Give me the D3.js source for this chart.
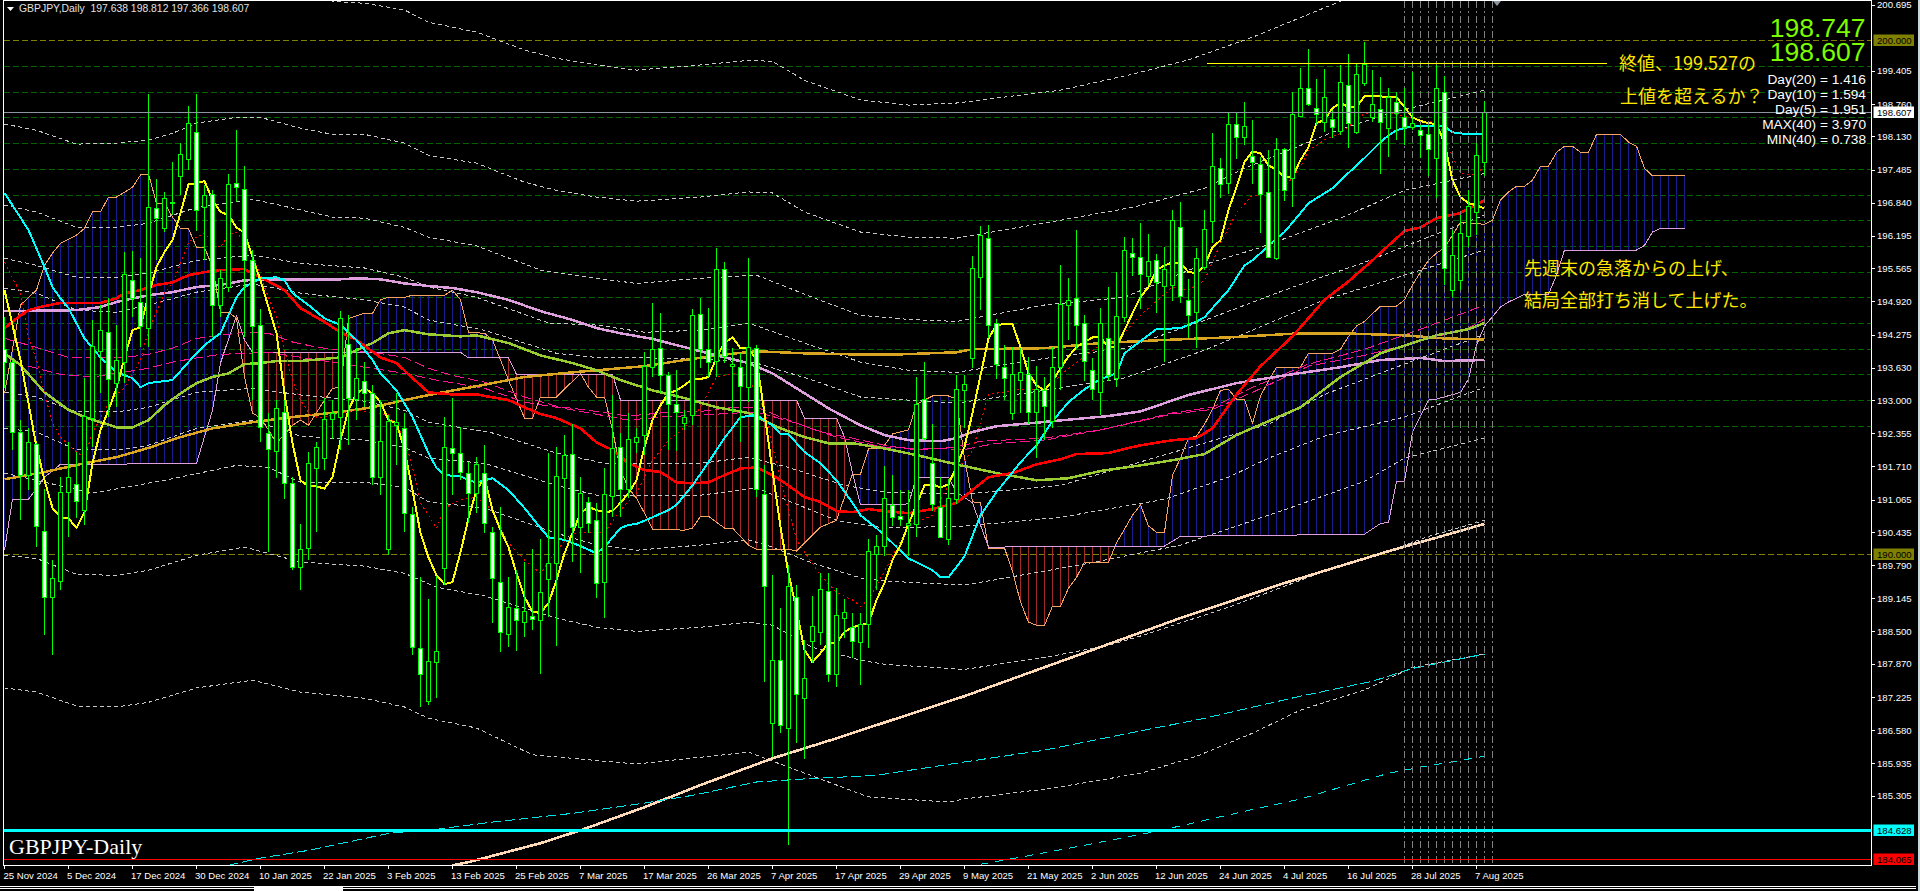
<!DOCTYPE html>
<html><head><meta charset="utf-8">
<style>html,body{margin:0;padding:0;background:#000;overflow:hidden}svg{display:block}</style>
<script src="https://cdn.jsdelivr.net/npm/d3@7"></script>
</head><body>
<script>
const opens=[193.99,193.74,192.38,191.54,192.14,190.45,189.17,189.48,191.21,191.36,
190.86,192.65,193.95,194.32,193.33,193.74,195.33,194.91,194.40,196.73,
196.34,196.83,197.36,197.69,198.21,196.75,197.01,194.85,195.20,197.22,
197.11,195.72,194.46,192.36,192.01,192.77,191.38,189.75,190.12,191.68,
191.87,192.63,192.67,194.09,193.02,193.37,193.13,191.50,190.10,192.51,
192.45,190.78,188.18,187.14,187.90,189.73,192.07,191.97,191.58,191.19,
191.58,190.43,189.46,188.45,188.95,188.68,188.80,188.72,189.52,189.83,
191.48,191.95,190.53,191.02,190.67,189.46,191.13,192.09,191.27,192.18,
192.32,193.64,194.01,193.48,192.92,192.55,192.71,194.67,193.99,193.76,
195.55,193.66,193.64,193.25,194.01,191.17,186.71,187.94,186.62,189.17,
187.20,188.31,188.49,189.28,187.67,188.76,188.58,188.29,188.64,190.00,
190.16,190.96,190.74,190.57,190.59,193.02,191.77,190.92,190.30,191.07,
193.19,193.82,195.39,196.15,194.50,193.64,192.75,193.39,193.50,192.77,
193.19,192.59,193.64,194.85,194.98,194.50,193.58,193.15,194.20,193.43,
194.61,195.86,195.78,195.41,195.72,195.22,195.24,196.36,194.95,194.71,
195.59,196.48,197.51,197.22,198.37,198.12,197.75,197.59,197.05,195.76,
197.88,197.32,198.52,199.07,198.68,198.41,198.47,198.23,199.13,198.21,
199.17,198.50,198.66,198.29,198.80,198.50,198.31,198.25,198.17,197.71,
198.99,195.14,195.33,196.19,196.66,197.638];
const highs=[194.61,193.78,192.61,192.45,192.16,191.27,189.89,191.50,192.18,191.99,
193.43,194.56,194.85,194.98,194.46,195.88,195.90,195.76,198.95,197.30,
197.05,197.63,198.00,198.72,198.95,197.18,197.09,195.53,197.40,198.25,
197.55,195.92,194.77,192.75,193.00,193.00,191.50,190.59,191.99,192.18,
193.04,193.00,194.73,194.65,194.01,193.74,193.29,193.00,192.71,193.13,
192.75,190.92,189.55,189.13,189.57,192.67,193.04,192.47,191.79,191.89,
192.12,190.53,190.92,189.55,189.69,189.85,190.10,190.30,191.97,192.09,
192.32,192.53,191.50,191.11,191.00,191.68,193.10,192.36,192.75,192.45,
193.93,194.89,194.69,193.54,193.58,192.81,194.77,194.98,194.79,195.96,
195.68,194.01,193.91,195.76,194.07,191.73,189.59,188.95,189.79,189.40,
188.33,189.19,189.63,189.63,189.34,189.13,188.85,188.85,190.30,190.37,
191.71,191.54,191.25,191.25,193.45,193.74,192.53,191.50,191.46,193.48,
193.48,195.80,196.38,196.40,194.58,194.07,194.03,194.01,193.83,193.66,
193.45,194.03,195.63,195.37,196.31,194.65,193.81,194.79,195.20,195.49,
196.17,196.15,196.44,196.23,195.84,195.97,196.70,196.85,195.35,195.96,
196.70,198.19,197.71,198.58,198.58,198.80,198.45,197.73,197.87,198.10,
197.90,198.99,199.46,199.83,199.24,199.44,198.64,199.52,199.73,199.56,
199.96,199.42,199.28,199.07,198.99,199.07,199.38,198.35,198.35,199.52,
199.30,196.31,196.60,197.09,198.00,198.812];
const lows=[193.23,192.03,190.67,191.25,190.14,188.43,188.04,189.30,190.33,190.70,
190.57,192.09,193.13,192.67,192.86,193.33,194.61,194.03,194.03,195.72,
196.27,196.60,196.99,197.48,196.29,195.72,194.22,194.61,195.10,196.85,
194.22,193.00,192.18,190.04,191.48,191.07,189.69,189.30,189.89,190.43,
191.64,192.24,192.03,192.12,192.61,192.86,191.34,191.15,189.98,191.73,
190.43,188.04,187.03,187.06,187.20,189.40,191.15,191.44,190.61,190.80,
190.41,188.66,188.10,188.20,188.12,188.39,188.53,187.67,188.78,188.21,
190.28,189.85,189.63,190.41,189.15,188.76,190.72,190.72,191.09,191.97,
191.93,193.45,193.13,192.03,192.01,192.42,192.51,193.62,193.45,193.45,
193.72,192.75,192.18,192.96,191.11,187.51,186.05,186.52,184.34,186.33,
186.02,187.88,188.23,187.51,187.42,188.37,187.98,187.45,188.18,189.30,
189.96,190.55,190.55,189.96,190.33,192.22,190.84,190.31,190.18,190.98,
192.45,193.62,194.75,194.20,193.41,193.00,192.61,192.75,192.53,191.87,
192.22,192.45,193.19,194.17,193.99,193.37,193.00,192.71,193.37,193.25,
194.52,195.41,194.77,195.24,194.69,193.74,194.93,194.89,194.20,194.01,
195.53,196.05,196.93,197.01,197.69,197.96,197.20,196.25,195.76,195.72,
196.87,196.75,198.50,198.72,198.35,198.21,198.10,198.15,197.90,198.17,
199.11,198.41,197.40,197.73,198.06,197.96,198.25,197.71,197.36,196.93,
195.24,195.00,195.14,195.97,196.21,197.366];
const closes=[193.74,192.38,191.54,192.18,190.55,189.17,189.54,191.21,191.50,191.03,
192.69,194.05,194.36,193.41,193.78,195.45,194.98,194.44,196.75,196.54,
196.93,196.85,197.78,198.39,196.70,196.99,194.85,195.37,197.20,197.14,
195.72,194.44,192.47,192.05,192.84,191.38,189.75,190.10,191.77,192.09,
192.63,192.75,194.59,193.04,193.43,193.13,191.50,192.20,192.59,192.57,
190.80,188.20,187.67,187.92,188.12,192.09,191.97,191.60,191.19,191.75,
190.61,189.54,188.49,188.97,188.72,188.89,188.74,189.26,189.83,191.52,
191.93,190.53,191.19,190.61,189.44,191.17,192.07,191.27,192.24,192.28,
193.66,193.99,193.48,192.92,192.77,192.67,194.65,193.99,193.74,195.55,
193.85,193.70,193.27,194.03,191.27,189.38,187.94,186.68,189.38,187.28,
187.59,188.60,189.32,187.67,188.82,188.87,188.31,188.64,190.06,190.16,
191.09,190.72,190.68,190.61,192.92,192.26,190.98,190.33,191.09,193.21,
193.31,195.57,196.21,194.46,193.70,193.43,193.50,193.54,192.77,193.21,
192.88,193.64,194.87,194.95,194.46,193.76,193.21,194.50,193.48,194.63,
195.92,195.78,195.45,195.70,195.29,195.55,196.50,195.02,194.65,195.76,
196.33,197.55,197.20,198.37,198.12,198.33,197.63,197.01,195.78,197.88,
197.09,198.56,199.07,198.76,198.56,198.89,198.31,199.19,198.39,199.34,
199.54,198.76,198.41,198.89,198.58,198.31,198.39,198.15,197.87,199.07,
195.57,195.82,196.25,196.78,197.77,198.607];
const yellowVals=[195.14,194.46,193.78,192.94,192.09,191.44,190.90,190.72,190.70,190.51,190.82,191.77,192.42,192.81,193.23,193.83,194.36,194.42,195.04,195.59,195.88,196.11,196.64,197.20,197.22,197.26,196.89,196.66,196.60,196.36,196.25,195.78,195.33,194.81,194.30,193.13,192.16,191.44,191.32,191.32,191.28,191.50,192.22,192.81,193.13,193.23,193.13,192.96,192.61,192.55,192.03,191.25,190.41,189.94,189.59,189.42,189.46,190.04,190.70,191.25,191.48,190.86,190.47,190.14,189.63,189.17,188.88,188.86,189.05,189.50,190.02,190.41,190.80,190.92,190.86,190.82,190.84,191.00,191.19,191.44,192.09,192.61,192.90,193.13,193.19,193.29,193.41,193.41,193.45,193.83,194.11,194.22,194.01,194.01,193.78,192.75,191.62,190.53,189.63,188.92,188.14,187.90,188.08,188.27,188.27,188.49,188.58,188.62,188.66,189.11,189.44,189.89,190.18,190.59,190.96,191.34,191.36,191.30,191.36,191.71,192.09,192.75,193.48,194.20,194.46,194.48,194.48,194.03,193.52,193.29,193.19,193.37,193.62,193.85,194.03,194.13,194.22,194.22,194.03,194.03,194.36,194.69,195.00,195.20,195.53,195.62,195.68,195.66,195.49,195.47,195.62,195.97,196.11,196.70,197.14,197.63,197.84,197.80,197.57,197.48,197.34,197.34,197.67,197.92,198.39,198.45,198.68,198.78,198.70,198.70,198.91,198.91,198.91,198.89,198.89,198.70,198.50,198.43,198.39,198.37,198.00,197.28,196.95,196.83,196.79,196.73];
const cyanBars=[0,3,5,6,7,8,10,12,14,16,17,18,21,23,25,27,29,30,32,34,35,36,38,40,42,44,46,47,49,51,53,54,55,57,58,59,61,63,65,67,68,70,72,74,75,77,78,79,81,83,84,85,86,88,90,92,94,96,97,98,100,102,104,106,107,109,111,113,116,117,118,120,122,124,127,129,131,133,135,137,139,140,142,144,147,149,150,151,153,155,156,157,158,160,162,163,166,168,170,172,173,174,176,178,180,181,183,185];
const cyanVals=[197.03,196.31,195.59,195.20,194.98,194.79,194.20,193.83,193.54,193.43,193.25,193.33,193.39,193.74,194.07,194.30,195.00,195.20,195.37,195.39,195.33,195.08,194.85,194.59,194.46,194.17,193.78,193.52,193.19,192.67,191.97,191.68,191.54,191.52,191.44,191.40,191.48,191.25,190.90,190.51,190.33,190.28,190.16,190.02,190.14,190.51,190.57,190.59,190.72,190.86,190.96,191.15,191.34,191.79,192.26,192.67,192.71,192.51,192.34,192.34,191.99,191.77,191.44,191.00,190.76,190.51,190.22,189.92,189.69,189.55,189.55,189.96,190.76,191.21,191.79,192.12,192.59,192.96,193.21,193.41,193.52,193.91,194.15,194.38,194.40,194.53,194.61,194.79,195.14,195.62,195.72,195.86,196.01,196.27,196.64,196.83,197.12,197.42,197.71,198.02,198.15,198.25,198.33,198.33,198.33,198.21,198.17,198.19];
const redBars=[0,2,3,5,7,12,14,15,17,19,21,23,25,27,30,32,35,37,40,42,44,47,49,51,53,56,59,63,65,67,69,72,74,76,78,80,82,84,86,88,90,92,94,96,98,100,102,104,106,108,110,113,116,119,121,123,126,129,132,134,138,140,142,146,149,151,154,157,161,165,168,171,174,175,177,179,182,185];
const redVals=[194.40,194.65,194.75,194.83,194.89,194.89,194.98,195.08,195.14,195.24,195.29,195.43,195.49,195.53,195.55,195.39,195.14,194.79,194.52,194.32,194.17,193.83,193.72,193.43,193.15,193.11,193.11,193.00,192.86,192.73,192.65,192.45,192.18,192.03,191.77,191.64,191.60,191.40,191.38,191.40,191.54,191.67,191.69,191.54,191.34,191.11,191.02,190.84,190.82,190.88,190.84,190.80,190.88,191.00,191.25,191.50,191.58,191.75,191.85,191.95,191.97,192.05,192.12,192.22,192.26,192.45,193.11,193.66,194.24,194.95,195.31,195.72,196.15,196.29,196.36,196.54,196.64,196.89];
const plumBars=[0,9,12,14,18,21,24,27,30,35,42,44,47,50,53,56,59,63,67,71,74,77,81,85,89,93,96,99,103,107,110,113,117,119,121,124,131,138,142,148,154,160,167,172,177,180,185];
const plumVals=[194.73,194.75,194.81,194.91,195.04,195.10,195.20,195.24,195.33,195.35,195.35,195.37,195.35,195.27,195.22,195.18,195.10,194.95,194.73,194.56,194.40,194.30,194.19,194.03,193.87,193.72,193.52,193.23,192.84,192.51,192.32,192.22,192.20,192.26,192.38,192.49,192.59,192.69,192.78,193.10,193.33,193.48,193.64,193.78,193.82,193.76,193.78];
const oliveBars=[0,2,5,8,10,12,14,16,18,20,22,24,26,28,30,32,34,37,42,44,46,48,50,53,57,59,63,67,71,74,77,81,85,89,93,97,100,103,106,110,114,119,124,129,133,137,142,146,150,154,158,162,167,172,179,183,185];
const oliveVals=[193.91,193.68,193.15,192.81,192.67,192.57,192.47,192.47,192.61,192.90,193.13,193.33,193.45,193.52,193.70,193.72,193.76,193.76,193.83,193.97,194.11,194.30,194.36,194.28,194.24,194.26,194.11,193.87,193.72,193.58,193.39,193.19,193.04,192.86,192.75,192.45,192.28,192.16,192.16,192.06,191.93,191.75,191.58,191.44,191.48,191.62,191.73,191.83,191.95,192.32,192.59,192.86,193.45,193.91,194.26,194.38,194.50];
const goldBars=[0,5,10,14,18,22,26,31,36,42,46,50,54,59,65,71,77,80,85,89,94,100,106,112,119,121,130,137,145,153,162,167,175,180,185];
const goldVals=[191.46,191.60,191.77,191.89,192.07,192.28,192.45,192.57,192.67,192.77,192.86,193.00,193.13,193.27,193.45,193.54,193.62,193.66,193.78,193.87,193.95,193.91,193.89,193.89,193.93,193.99,194.01,194.11,194.17,194.22,194.30,194.30,194.26,194.20,194.18];
const peachBars=[56,58,67,72,80,87,96,104,112,120,136,147,160,173,185];
const peachVals=[183.95,184.01,184.38,184.63,185.08,185.51,186.03,186.42,186.83,187.24,188.14,188.76,189.44,190.06,190.59];
const tealABars=[28,32,38,48,54,61,71,80,86,94,100,109,120,130,138,150,162,171,176,185];
const tealAVals=[183.95,184.09,184.24,184.57,184.65,184.79,184.96,185.16,185.31,185.57,185.63,185.70,185.96,186.19,186.44,186.81,187.24,187.53,187.78,188.06];
const tealBBars=[122,125,135,144,155,162,173,177,185];
const tealBVals=[183.97,184.05,184.34,184.61,185.00,185.24,185.74,185.86,186.07];
const dotBars=[0,2,3,4,5,6,7,9,10,11,13,15,17,18,20,21,22,23,24,25,26,27,28,29,30,31,32,33,34,35,36,37,38,39,40,44,46,48,50,51,52,54,55,57,59,61,63,65,67,69,71,73,75,77,79,81,83,85,87,89,91,93,95,97,99,102,104,106,107,108,110,113,116,119,121,123,127,130,133,137,139,142,146,148,150,152,154,156,158,160,162,163,165,167,170,173,176,178,179,180,181,182,184,185];
const dotVals=[195.68,195.08,194.22,193.78,193.13,192.55,192.28,191.99,191.89,192.36,192.94,193.25,193.78,194.36,195.08,195.27,195.66,196.07,196.17,196.25,196.07,195.97,196.21,196.27,196.07,195.88,195.39,195.00,194.61,193.97,193.39,193.00,192.75,192.67,192.67,192.81,192.75,192.71,192.26,191.69,191.00,190.51,190.90,191.06,191.11,190.86,190.22,189.89,189.63,190.08,190.41,190.43,190.43,190.86,191.19,191.83,192.22,192.47,192.86,193.45,193.52,193.45,192.80,191.44,190.28,189.59,189.26,189.11,188.99,189.11,189.67,190.55,190.76,191.64,192.01,193.11,193.21,193.19,193.62,194.07,194.15,194.65,195.20,195.14,195.33,196.05,196.64,196.99,196.99,197.14,197.53,197.86,198.06,198.19,198.58,198.60,198.48,198.39,198.48,198.12,197.73,197.41,197.38,197.57];
const pinkABars=[0,3,8,15,18,21,24,27,30,33,36,39,42,46,50,53,56,60,65,69,73,78,82,87,91,94,98,102,106,110,114,119,122,130,137,146,151,156,163,170,176,183,185];
const pinkAVals=[194.20,194.07,193.83,193.83,193.89,194.01,194.20,194.26,194.32,194.30,194.13,194.03,193.97,193.93,193.83,193.62,193.48,193.35,193.06,192.88,192.80,192.69,192.75,192.78,192.86,192.86,192.61,192.38,192.26,192.12,192.03,192.09,192.20,192.26,192.42,192.75,192.86,193.25,193.70,193.99,194.32,194.73,194.85];
const pinkBBars=[3,7,11,18,21,24,27,33,50,54,60,65,71,78,82,87,94,99,104,110,120,124,130,137,146,151,156,163,170,176,183,185];
const pinkBVals=[193.66,193.50,193.45,193.62,193.74,193.82,193.89,193.93,193.52,193.39,193.23,192.96,192.81,192.61,192.67,192.71,192.77,192.55,192.28,192.08,192.04,192.16,192.22,192.42,192.73,192.82,193.15,193.66,193.87,194.11,194.40,194.58];
const spanABars=[0,2,4,5,6,7,9,10,11,12,13,14,16,17,18,19,20,21,22,23,24,25,26,27,28,29,30,31,32,33,34,36,37,38,40,41,42,43,45,46,47,48,50,51,55,56,57,58,60,61,63,65,66,67,69,72,73,74,75,76,77,78,79,80,81,85,86,87,88,90,91,93,94,98,99,102,104,105,106,107,108,109,110,111,113,114,116,118,119,120,121,122,123,125,126,127,128,129,130,131,132,133,134,135,138,139,141,142,143,144,145,146,147,148,149,150,151,152,153,154,155,156,157,158,159,162,163,166,167,168,169,170,172,174,175,176,177,178,179,180,181,182,185,186,187,188,189,190,191,192,193,194,195,196,197,198,199,202,203,204,205,206,210];
const spanAVals=[193.13,194.85,195.14,195.62,195.86,196.05,196.21,196.34,196.66,196.66,196.95,196.95,197.14,197.38,197.40,196.83,196.83,196.56,196.34,196.34,195.97,195.97,195.59,194.71,194.71,194.59,193.45,192.75,192.65,192.42,192.16,192.51,192.61,192.51,193.00,193.23,193.25,194.59,194.69,194.69,194.95,195.00,195.00,195.04,195.04,195.14,194.95,194.32,194.30,194.17,193.39,192.65,192.65,193.06,193.06,193.52,193.25,193.06,193.06,192.42,191.64,191.29,191.09,190.80,190.49,190.47,190.51,190.74,190.74,190.51,190.51,190.18,190.10,190.10,190.06,190.53,190.66,191.11,191.56,191.56,192.05,192.06,192.12,192.34,192.42,192.92,193.08,193.08,193.02,191.87,191.02,191.00,190.12,190.12,189.67,189.07,188.68,188.62,188.62,188.99,188.99,189.34,189.55,189.85,189.85,190.22,190.76,190.96,190.55,190.43,190.43,191.54,191.87,192.26,192.30,192.53,192.82,193.19,193.21,193.02,193.02,192.55,193.08,193.37,193.64,193.64,193.91,193.91,193.99,194.24,194.44,194.53,194.83,194.83,194.95,195.24,195.49,195.72,195.86,195.96,196.21,196.46,196.42,196.50,196.89,197.05,197.16,197.16,197.28,197.55,197.55,197.82,197.94,197.94,197.82,197.82,198.17,198.17,198.02,197.94,197.51,197.36,197.36];
const spanBBars=[0,1,3,5,7,12,22,24,26,27,29,30,31,57,58,63,64,76,77,99,100,104,105,106,107,109,113,114,118,119,121,123,145,147,170,172,173,174,175,176,178,179,182,183,184,185,187,188,189,190,193,194,195,204,205,206,207,210];
const spanBVals=[190.08,191.07,191.07,191.50,191.75,191.75,191.77,191.77,192.80,193.72,194.65,194.17,193.93,193.93,193.82,193.82,193.50,193.50,193.00,193.00,192.65,192.65,192.28,191.58,190.96,190.96,190.98,191.50,191.50,191.21,191.00,190.14,190.16,190.35,190.39,190.60,190.62,191.42,191.42,192.38,193.00,193.02,193.15,193.41,194.07,194.44,194.81,194.91,194.98,195.06,195.06,195.43,195.92,195.92,196.01,196.27,196.34,196.34];
const bands=[
 {bars:[39,41,45,50,53,59,65,69,74,79,87,93,96,100,107,113,119,132,141,148,156,167],vals:[200.84,200.76,200.72,200.59,200.35,200.16,199.81,199.65,199.52,199.42,199.52,199.61,199.59,199.22,198.84,198.74,198.78,199.03,199.34,199.62,200.06,200.76]},
 {bars:[0,4,9,14,18,21,24,29,32,37,41,45,50,53,59,65,69,74,79,87,93,96,100,107,113,119,132,141,150,155,166,173,185],vals:[198.37,198.25,197.98,198.00,198.06,198.19,198.39,198.50,198.50,198.29,198.17,198.17,198.00,197.76,197.61,197.24,197.08,196.95,196.87,196.95,197.05,197.03,196.66,196.27,196.17,196.15,196.50,196.75,197.12,197.51,198.21,198.58,199.03]},
 {bars:[0,4,9,14,18,24,31,37,41,45,50,53,59,67,74,79,87,94,101,107,113,119,130,140,149,157,167,175,185],vals:[196.79,196.66,196.36,196.36,196.44,196.75,196.91,196.70,196.56,196.54,196.36,196.17,196.00,195.53,195.37,195.27,195.37,195.43,195.00,194.65,194.57,194.53,194.85,195.00,195.59,195.97,196.54,197.08,197.41]},
 {bars:[0,4,9,14,18,24,31,37,45,50,53,59,68,74,80,87,93,100,107,113,119,130,140,150,160,170,185],vals:[195.76,195.62,195.39,195.39,195.47,195.72,195.82,195.66,195.57,195.39,195.20,195.00,194.50,194.46,194.32,194.36,194.50,194.11,193.74,193.58,193.54,193.81,194.01,194.55,195.14,195.68,196.60]},
 {bars:[0,4,9,14,18,24,31,37,45,50,53,60,69,74,87,94,101,107,113,119,130,140,150,165,175,185],vals:[195.18,195.08,194.75,194.71,194.85,195.10,195.26,195.08,194.95,194.81,194.56,194.36,193.91,193.83,193.81,193.72,193.39,193.06,193.00,192.94,193.19,193.43,193.97,194.95,195.43,195.92]},
 {bars:[0,4,9,14,18,24,31,37,45,50,53,61,69,75,87,93,98,105,110,120,132,158,165,175,185],vals:[193.15,193.06,192.77,192.77,192.86,193.15,193.23,193.10,192.98,192.80,192.57,192.36,191.97,191.77,191.77,191.89,191.69,191.34,191.21,191.17,191.34,192.53,193.11,193.70,194.28]},
 {bars:[0,4,9,14,18,24,31,37,45,50,53,60,69,74,87,94,104,110,120,132,145,153,158,165,175,185],vals:[192.45,192.38,192.03,192.03,192.12,192.45,192.61,192.30,192.22,192.08,191.87,191.77,191.34,191.15,191.15,191.29,190.66,190.51,190.55,190.72,191.07,191.50,191.87,192.30,192.67,193.25]},
 {bars:[0,11,20,29,33,37,45,50,53,60,69,74,79,87,93,96,101,107,110,120,135,147,151,161,170,175,185],vals:[191.58,191.19,191.44,191.73,191.69,191.40,191.40,191.30,191.02,190.90,190.41,190.18,190.08,190.18,190.28,190.14,189.83,189.54,189.48,189.40,189.81,190.18,190.39,190.92,191.42,191.87,192.26]},
 {bars:[0,4,9,14,18,24,30,37,45,50,54,60,69,74,79,87,93,96,101,107,110,120,131,138,142,153,165,172,178,185],vals:[189.98,189.92,189.61,189.59,189.69,189.98,190.14,189.85,189.77,189.63,189.36,189.19,188.76,188.58,188.50,188.58,188.68,188.62,188.19,187.94,187.86,187.76,188.02,188.23,188.41,188.97,189.67,190.00,190.35,190.66]},
 {bars:[0,4,9,14,18,24,31,37,45,50,53,59,66,76,79,93,108,118,120,131,142,149,156,162,170,176,185],vals:[187.40,187.32,187.05,187.03,187.12,187.40,187.55,187.32,187.20,187.03,186.81,186.62,186.10,185.96,185.92,186.15,185.28,185.18,185.24,185.45,185.74,186.07,186.52,186.97,187.36,187.80,188.06]}
];
const gridPrices=[199.5,199,198.5,198,197.5,197,196.5,196,195.5,195,194.5,194,193.5,193,192.5];
const roundPrices=[200,190];
const priceTicks=[200.695,199.405,198.760,198.130,197.485,196.840,196.195,195.565,194.920,194.275,193.630,193.000,192.355,191.710,191.065,190.435,189.790,189.145,188.500,187.870,187.225,186.580,185.935,185.305];
const dateLabels=["25 Nov 2024","5 Dec 2024","17 Dec 2024","30 Dec 2024","10 Jan 2025","22 Jan 2025","3 Feb 2025","13 Feb 2025","25 Feb 2025","7 Mar 2025","17 Mar 2025","26 Mar 2025","7 Apr 2025","17 Apr 2025","29 Apr 2025","9 May 2025","21 May 2025","2 Jun 2025","12 Jun 2025","24 Jun 2025","4 Jul 2025","16 Jul 2025","28 Jul 2025","7 Aug 2025"];
const separatorBars=[175,176,177,178,179,180,181,182,183,184,185,186];
const lastPrice=198.607, supportPrice=184.628, lowPrice=184.065, resistancePrice=199.527;
const statTexts=["Day(20) = 1.416","Day(10) = 1.594","Day(5) = 1.951","MAX(40) = 3.970","MIN(40) = 0.738"];
const bigTexts=["198.747","198.607"];

const W=1920,H=891,axisX=1871.5,plotBottom=865;
const x=d3.scaleLinear().domain([0,185]).range([4.5,1484.5]);
const y=d3.scaleLinear().domain([200,190]).range([40.3,554.3]);
const svg=d3.select("body").append("svg").attr("width",W).attr("height",H).attr("viewBox",`0 0 ${W} ${H}`).style("background","#000");
svg.append("defs").append("clipPath").attr("id","plot").append("rect").attr("x",4).attr("y",1).attr("width",axisX-4).attr("height",plotBottom-1);
const plot=svg.append("g").attr("clip-path","url(#plot)");
function hline(g,p,color,w,dash,x0=4,x1=axisX){const l=g.append("line").attr("x1",x0).attr("x2",x1).attr("y1",Math.round(y(p))+.5).attr("y2",Math.round(y(p))+.5).attr("stroke",color).attr("stroke-width",w).attr("shape-rendering","crispEdges");if(dash)l.attr("stroke-dasharray",dash);return l;}
gridPrices.forEach(p=>hline(plot,p,"#006400",1,"6 3"));
roundPrices.forEach(p=>hline(plot,p,"#808000",1,"6 3"));

// Ichimoku cloud hatches
const spanA=d3.scaleLinear().domain(spanABars).range(spanAVals);
const spanB=d3.scaleLinear().domain(spanBBars).range(spanBVals);
const cloudBars=d3.range(0,211);
plot.append("g").selectAll("line").data(cloudBars).join("line")
  .attr("x1",d=>x(d)).attr("x2",d=>x(d)).attr("y1",d=>y(spanA(d))).attr("y2",d=>y(spanB(d)))
  .attr("stroke",d=>spanA(d)>=spanB(d)?"#1a1a8c":"#a52a2a").attr("stroke-width",1).attr("shape-rendering","crispEdges");

function series(bars,vals,color,w,dash){
  const line=d3.line().x(d=>x(d[0])).y(d=>y(d[1]));
  const p=plot.append("path").datum(bars.map((b,i)=>[b,vals[i]])).attr("d",line).attr("fill","none").attr("stroke",color).attr("stroke-width",w).attr("stroke-linejoin","round").attr("shape-rendering","crispEdges");
  if(dash)p.attr("stroke-dasharray",dash);
  return p;
}
bands.forEach(b=>series(b.bars,b.vals,"#c8c8c8",1,"4 3"));
series(spanABars,spanAVals,"#f4a460",1);
series(spanBBars,spanBVals,"#dda0dd",1);
series(pinkABars,pinkAVals,"#ff1493",1,"10 4");
series(pinkBBars,pinkBVals,"#ff1493",1,"10 4");
series(peachBars,peachVals,"#ffdab9",2.6);
series(tealABars,tealAVals,"#00e5e5",1,"10 4");
series(tealBBars,tealBVals,"#00e5e5",1,"8 7");
series(goldBars,goldVals,"#daa520",2.5);
series(plumBars,plumVals,"#dda0dd",2.5);
series(oliveBars,oliveVals,"#9acd32",2.5);
series(redBars,redVals,"#ff0000",2.6);
series(cyanBars,cyanVals,"#00ffff",2);
series(dotBars,dotVals,"#ff0000",1,"2 3");
series(d3.range(yellowVals.length),yellowVals,"#ffff00",2);

// vertical separators
plot.append("g").selectAll("line").data(separatorBars).join("line")
  .attr("x1",d=>x(d)).attr("x2",d=>x(d)).attr("y1",1).attr("y2",plotBottom)
  .attr("stroke","#808080").attr("stroke-width",1).attr("stroke-dasharray","7 3 2 3").attr("shape-rendering","crispEdges");

// candles
const idx=d3.range(opens.length);
const cg=plot.append("g");
cg.selectAll("line").data(idx).join("line")
  .attr("x1",i=>x(i)).attr("x2",i=>x(i)).attr("y1",i=>y(highs[i])).attr("y2",i=>y(lows[i]))
  .attr("stroke","#00ff00").attr("stroke-width",1).attr("shape-rendering","crispEdges");
cg.selectAll("rect").data(idx).join("rect")
  .attr("x",i=>x(i)-2).attr("width",4)
  .attr("y",i=>Math.round(y(Math.max(opens[i],closes[i])))+.5)
  .attr("height",i=>Math.max(1,Math.round(Math.abs(y(opens[i])-y(closes[i])))))
  .attr("fill",i=>closes[i]<opens[i]?"#ffffff":"#000000")
  .attr("stroke","#00ff00").attr("stroke-width",1).attr("shape-rendering","crispEdges");

// horizontal objects
hline(plot,lastPrice,"#8c96a0",1.2);
hline(plot,supportPrice,"#00ffff",2.5);
hline(plot,lowPrice,"#ff0000",1);
plot.append("line").attr("x1",1207).attr("x2",1607).attr("y1",y(resistancePrice)-1).attr("y2",y(resistancePrice)-1).attr("stroke","#ffff00").attr("stroke-width",1).attr("shape-rendering","crispEdges");

// frame + axes
const frame=svg.append("g").attr("shape-rendering","crispEdges").attr("stroke","#fff").attr("stroke-width",1);
frame.append("line").attr("x1",3.5).attr("x2",3.5).attr("y1",0).attr("y2",plotBottom);
frame.append("line").attr("x1",3).attr("x2",axisX).attr("y1",.5).attr("y2",.5);
frame.append("line").attr("x1",axisX).attr("x2",axisX).attr("y1",0).attr("y2",plotBottom);
frame.append("line").attr("x1",3).attr("x2",axisX).attr("y1",plotBottom+.5).attr("y2",plotBottom+.5);
frame.append("line").attr("x1",0).attr("x2",1916).attr("y1",886.5).attr("y2",886.5);
frame.append("line").attr("x1",0).attr("x2",254).attr("y1",888.5).attr("y2",888.5);
frame.append("line").attr("x1",343).attr("x2",1916).attr("y1",888.5).attr("y2",888.5);
svg.append("rect").attr("x",254).attr("y",887).attr("width",89).attr("height",4).attr("fill","#fff");
svg.append("rect").attr("x",1918).attr("y",0).attr("width",2).attr("height",891).attr("fill","#c8d8d8");

const axisFont="'Liberation Sans',Arial,sans-serif";
const yAxis=svg.append("g");
yAxis.selectAll("line").data(priceTicks).join("line").attr("x1",axisX).attr("x2",axisX+3).attr("y1",d=>Math.round(y(d))+.5).attr("y2",d=>Math.round(y(d))+.5).attr("stroke","#fff").attr("shape-rendering","crispEdges");
yAxis.selectAll("text").data(priceTicks).join("text").attr("x",1877).attr("y",d=>y(d)+3.6).text(d=>d.toFixed(3)).attr("fill","#fff").attr("font-family",axisFont).attr("font-size",9.6);
const tickBars=dateLabels.map((_,i)=>i*8);
const xAxis=svg.append("g");
xAxis.selectAll("line").data(tickBars).join("line").attr("x1",d=>x(d)).attr("x2",d=>x(d)).attr("y1",plotBottom).attr("y2",plotBottom+4).attr("stroke","#fff").attr("shape-rendering","crispEdges");
xAxis.selectAll("text").data(dateLabels).join("text").attr("x",(d,i)=>i==0?3.5:x(tickBars[i])-1.5).attr("y",879).text(d=>d).attr("fill","#fff").attr("font-family",axisFont).attr("font-size",9.6);

function priceBox(p,fill,label){
  const yy=y(p);
  svg.append("rect").attr("x",1873.5).attr("y",Math.round(yy)-5.5).attr("width",40.5).attr("height",11.5).attr("fill",fill);
  svg.append("text").attr("x",1877).attr("y",yy+3.6).text(label).attr("fill","#000").attr("font-family",axisFont).attr("font-size",9.6);
}
priceBox(200,"#808000","200.000");
priceBox(190,"#808000","190.000");
priceBox(lastPrice,"#ffffff","198.607");
priceBox(supportPrice,"#00ffff","184.628");
priceBox(lowPrice,"#ff0000","184.065");

// title + triangle markers
svg.append("path").attr("d","M7 7 L14 7 L10.5 11 Z").attr("fill","#fff");
svg.append("text").attr("x",19).attr("y",12).text("GBPJPY,Daily  197.638 198.812 197.366 198.607").style("white-space","pre").attr("fill","#e0e0e0").attr("font-family",axisFont).attr("font-size",10.4);
svg.append("path").attr("d","M1493 1 L1501 1 L1497 6 Z").attr("fill","#8c96a0");
svg.append("text").attr("x",9).attr("y",854).text("GBPJPY-Daily").attr("fill","#fff").attr("font-family","'Liberation Serif',serif").attr("font-size",22);

// right-hand readouts
svg.selectAll("text.big").data(bigTexts).join("text").attr("class","big").attr("x",1865.5).attr("y",(d,i)=>37+i*23.5).text(d=>d).attr("text-anchor","end").attr("fill","#7cfc00").attr("font-family",axisFont).attr("font-size",26.5);
svg.selectAll("text.stat").data(statTexts).join("text").attr("class","stat").attr("x",1866).attr("y",(d,i)=>84+i*15).text(d=>d).attr("text-anchor","end").attr("fill","#fff").attr("font-family",axisFont).attr("font-size",13.7);

const jp="'Noto Sans CJK JP','Noto Sans',sans-serif";
[["終値、199.527の",1619,69.5],["上値を超えるか？",1620,102.5],["先週末の急落からの上げ、",1524,274.5],["結局全部打ち消して上げた。",1524,306.5]].forEach(t=>{
  svg.append("text").attr("x",t[1]).attr("y",t[2]).text(t[0]).attr("fill","#ffe600").attr("font-family",jp).attr("font-size",18);
});
</script>
</body></html>
